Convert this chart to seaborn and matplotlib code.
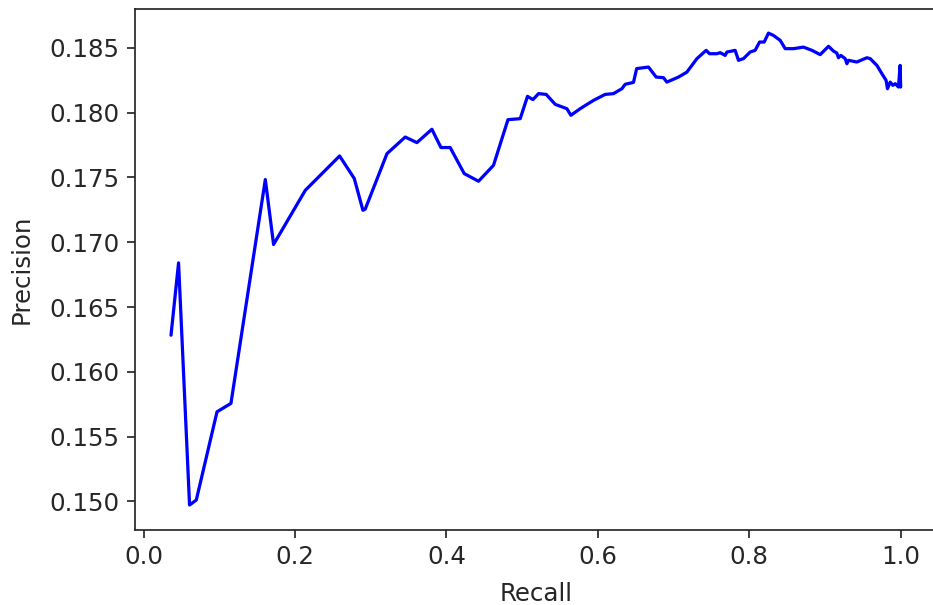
import matplotlib
matplotlib.use("Agg")
import matplotlib.pyplot as plt
import seaborn as sns
import pandas as pd

# Precision-recall curve points
recall = [
    0.0362, 0.0462, 0.0607, 0.0696, 0.0970, 0.1154, 0.1608, 0.1717, 0.2136, 0.2589,
    0.2783, 0.2897, 0.2927, 0.3215, 0.3456, 0.3610, 0.3808, 0.3928, 0.4050, 0.4235,
    0.4424, 0.4622, 0.4813, 0.4975, 0.5071, 0.5143, 0.5217, 0.5318, 0.5438, 0.5591,
    0.5644, 0.5767, 0.5943, 0.6097, 0.6207, 0.6318, 0.6361, 0.6471, 0.6513, 0.6669,
    0.6770, 0.6867, 0.6912, 0.7066, 0.7176, 0.7309, 0.7431, 0.7475, 0.7573, 0.7616,
    0.7682, 0.7705, 0.7814, 0.7858, 0.7924, 0.8012, 0.8078, 0.8136, 0.8197, 0.8254,
    0.8320, 0.8409, 0.8475, 0.8585, 0.8716, 0.8828, 0.8937, 0.9047, 0.9113, 0.9157,
    0.9178, 0.9210, 0.9267, 0.9290, 0.9311, 0.9421, 0.9554, 0.9597, 0.9686, 0.9752,
    0.9808, 0.9826, 0.9862, 0.9897, 0.9928, 0.9971, 0.9993, 1.0000,
]
precision = [
    0.16283, 0.16841, 0.14973, 0.15011, 0.15692, 0.15757, 0.17484, 0.16983, 0.17401, 0.17666,
    0.17492, 0.17247, 0.17255, 0.17684, 0.17812, 0.17769, 0.17872, 0.17731, 0.17731, 0.17530,
    0.17471, 0.17594, 0.17946, 0.17954, 0.18126, 0.18101, 0.18147, 0.18141, 0.18064, 0.18031,
    0.17980, 0.18031, 0.18095, 0.18141, 0.18147, 0.18185, 0.18219, 0.18234, 0.18340, 0.18352,
    0.18275, 0.18270, 0.18236, 0.18275, 0.18313, 0.18417, 0.18481, 0.18455, 0.18455, 0.18463,
    0.18442, 0.18468, 0.18481, 0.18404, 0.18417, 0.18468, 0.18481, 0.18545, 0.18545, 0.18614,
    0.18596, 0.18558, 0.18494, 0.18494, 0.18506, 0.18481, 0.18448, 0.18512, 0.18475, 0.18460,
    0.18424, 0.18442, 0.18417, 0.18378, 0.18404, 0.18391, 0.18424, 0.18417, 0.18365, 0.18301,
    0.18249, 0.18185, 0.18236, 0.18211, 0.18224, 0.18198, 0.18365, 0.18198,
]

y_ticks = [0.150, 0.155, 0.160, 0.165, 0.170, 0.175, 0.180, 0.185]
x_ticks = [0.0, 0.2, 0.4, 0.6, 0.8, 1.0]

sns.set_style("ticks", {"axes.edgecolor": ".15", "text.color": ".15",
                        "xtick.color": ".15", "ytick.color": ".15",
                        "axes.labelcolor": ".15"})
plt.rcParams["font.family"] = ["DejaVu Sans"]
plt.rcParams["font.size"] = 11.4
plt.rcParams["xtick.labelsize"] = 11.4
plt.rcParams["ytick.labelsize"] = 11.4
plt.rcParams["axes.labelsize"] = 11.4

df = pd.DataFrame({"Recall": recall, "Precision": precision})

fig = plt.figure(figsize=(933 / 155, 605 / 155), dpi=155)
ax = fig.add_axes([134.5 / 933, 75 / 605, 802.5 / 933, 521 / 605])

sns.lineplot(data=df, x="Recall", y="Precision", ax=ax, color="b",
             linewidth=1.5, estimator=None, sort=False)

ax.set_xticks(x_ticks)
ax.set_yticks(y_ticks)
ax.set_xticklabels([f"{v:.1f}" for v in x_ticks])
ax.set_yticklabels([f"{v:.3f}" for v in y_ticks])
ax.set_xlim(-0.012, 1.048)
ax.set_ylim(0.1478, 0.1880)
ax.set_xlabel("Recall", labelpad=6)
ax.set_ylabel("Precision", labelpad=7)
ax.tick_params(length=3.5, width=0.8, pad=3.5)
for s in ax.spines.values():
    s.set_linewidth(0.8)
    s.set_visible(True)

fig.savefig("out.png", dpi=155, facecolor="white")
